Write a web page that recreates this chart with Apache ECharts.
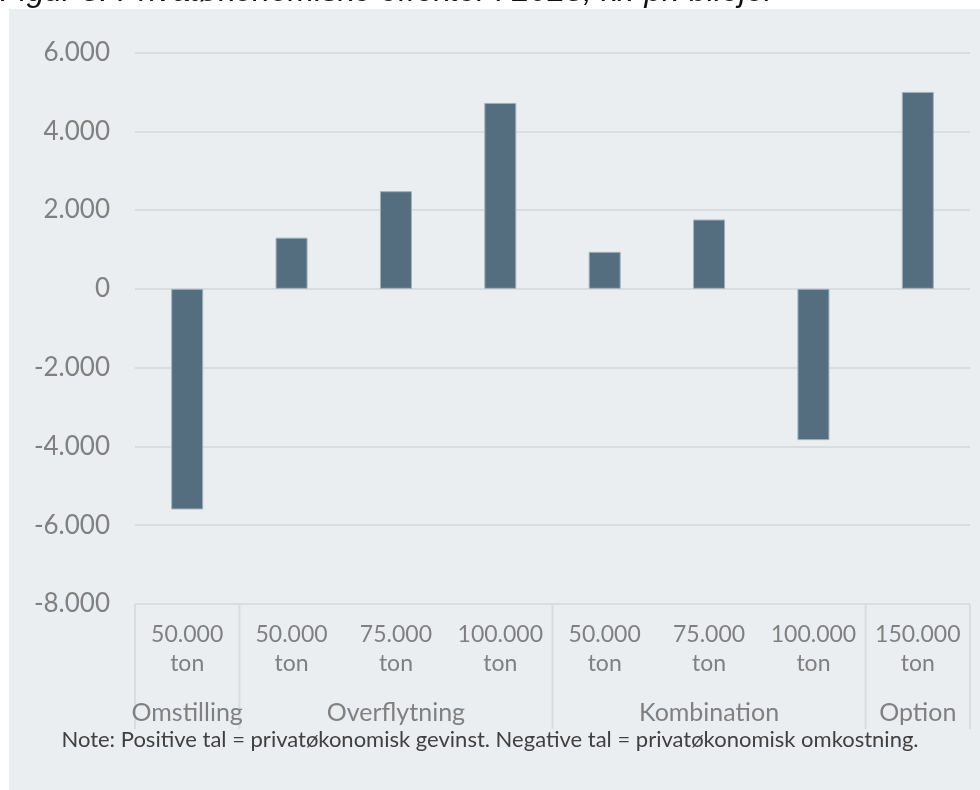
<!DOCTYPE html>
<html>
<head>
<meta charset="utf-8">
<script src="https://cdn.jsdelivr.net/npm/echarts@6/dist/echarts.min.js"></script>
<style>
  html, body { margin: 0; padding: 0; background: #fff; }
  #chart { width: 980px; height: 790px; }
</style>
</head>
<body>
<div id="chart"></div>
<script>
// data
const sizes = ['50.000\nton', '50.000\nton', '75.000\nton', '100.000\nton', '50.000\nton', '75.000\nton', '100.000\nton', '150.000\nton'];
const groups = ['Omstilling', '', 'Overflytning', '', '', 'Kombination', '', 'Option'];
const groupStarts = [0, 1, 4, 7];
const values = [-5600, 1300, 2480, 4720, 940, 1760, -3840, 5000];
const yTicks = { min: -8000, max: 6000, interval: 2000 };

const titleText = 'Figur 8: Privatøkonomiske effekter i 2025, kr. pr. bilejer';
const noteText = 'Note: Positive tal = privatøkonomisk gevinst. Negative tal = privatøkonomisk omkostning.';

const panelColor = '#ebeef0';
const gridColor = '#dadddf';
const labelColor = '#808080';
const font = 'Lato, "Open Sans", sans-serif';

const fmt = v => (v < 0 ? '-' : '') + Math.abs(v).toLocaleString('da-DK');

const chart = echarts.init(document.getElementById('chart'), null, { renderer: 'canvas' });

const option = {
  backgroundColor: '#ffffff',
  animation: false,
  grid: { left: 135, right: 10, top: 52.5, bottom: 186, containLabel: false },
  xAxis: [
    {
      type: 'category',
      data: sizes,
      axisLine: { show: false },
      axisTick: { show: false },
      axisLabel: {
        interval: 0,
        margin: 16,
        color: labelColor,
        fontFamily: font,
        fontSize: 23,
        lineHeight: 29,
      },
    },
    {
      type: 'category',
      data: groups,
      position: 'bottom',
      axisLine: { show: false },
      axisTick: { show: false },
      axisLabel: {
        interval: 0,
        margin: 96,
        color: labelColor,
        fontFamily: font,
        fontSize: 25,
        lineHeight: 26,
      },
    },
  ],
  yAxis: {
    type: 'value',
    min: yTicks.min,
    max: yTicks.max,
    interval: yTicks.interval,
    axisLine: { show: false },
    axisTick: { show: false },
    axisLabel: {
      formatter: fmt,
      margin: 25,
      color: labelColor,
      fontFamily: font,
      fontSize: 26,
    },
    splitLine: { lineStyle: { color: gridColor, width: 2 } },
  },
  graphic: [
    {
      type: 'rect',
      z: -10,
      silent: true,
      shape: { x: 9, y: 9, width: 971, height: 781 },
      style: { fill: panelColor },
    },
    {
      type: 'text',
      left: 0,
      top: -24,
      silent: true,
      style: {
        text: titleText,
        font: 'italic 32px "Liberation Sans", Arial, sans-serif',
        fill: '#111',
      },
    },
    {
      type: 'text',
      left: 'center',
      top: 729,
      silent: true,
      style: {
        text: noteText,
        font: '22px ' + font,
        fill: '#404040',
      },
    },
  ],
  series: [
    {
      type: 'bar',
      xAxisIndex: 0,
      data: values,
      barWidth: 32,
      itemStyle: { color: '#546e7f', borderColor: '#9fb1bd', borderWidth: 1 },
    },
  ],
};

chart.setOption(option);

// group separators below the plot, placed from the category axis scale
const axis = chart.getModel().getComponent('xAxis', 0).axis;
const bw = axis.getBandWidth();
const yBase = chart.convertToPixel({ yAxisIndex: 0 }, yTicks.min);
const seps = groupStarts.concat([sizes.length]).map((idx, k) => {
  const x = idx < sizes.length
    ? chart.convertToPixel({ xAxisIndex: 0 }, idx) - bw / 2
    : chart.convertToPixel({ xAxisIndex: 0 }, sizes.length - 1) + bw / 2;
  return {
    type: 'line',
    id: 'sep' + k,
    silent: true,
    shape: { x1: x, y1: yBase, x2: x, y2: yBase + 125 },
    style: { stroke: gridColor, lineWidth: 2 },
  };
});
chart.setOption({ graphic: option.graphic.concat(seps) });
</script>
</body>
</html>
